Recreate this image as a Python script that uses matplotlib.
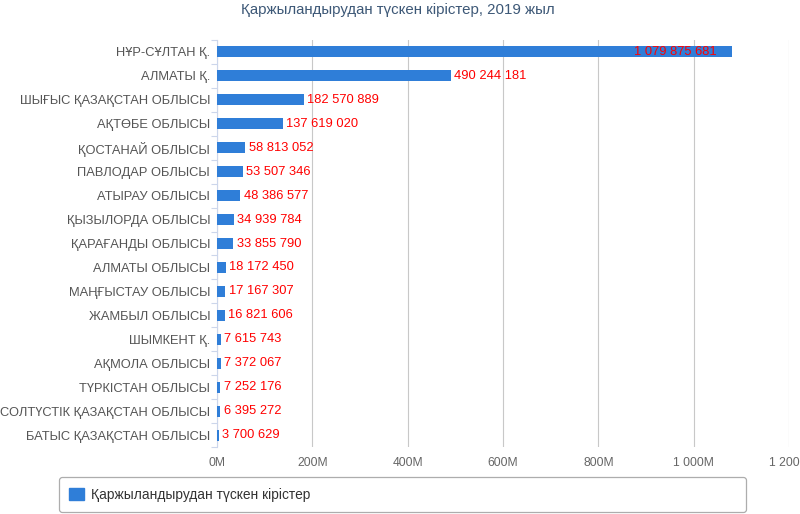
import matplotlib
matplotlib.use("Agg")
import matplotlib.pyplot as plt
from matplotlib.ticker import FixedLocator
from matplotlib.patches import Patch

# ---- data ----
title = "Қаржыландырудан түскен кірістер, 2019 жыл"
series_name = "Қаржыландырудан түскен кірістер"
categories = [
    "НҰР-СҰЛТАН Қ.", "АЛМАТЫ Қ.", "ШЫҒЫС ҚАЗАҚСТАН ОБЛЫСЫ", "АҚТӨБЕ ОБЛЫСЫ",
    "ҚОСТАНАЙ ОБЛЫСЫ", "ПАВЛОДАР ОБЛЫСЫ", "АТЫРАУ ОБЛЫСЫ", "ҚЫЗЫЛОРДА ОБЛЫСЫ",
    "ҚАРАҒАНДЫ ОБЛЫСЫ", "АЛМАТЫ ОБЛЫСЫ", "МАҢҒЫСТАУ ОБЛЫСЫ", "ЖАМБЫЛ ОБЛЫСЫ",
    "ШЫМКЕНТ Қ.", "АҚМОЛА ОБЛЫСЫ", "ТҮРКІСТАН ОБЛЫСЫ",
    "СОЛТҮСТІК ҚАЗАҚСТАН ОБЛЫСЫ", "БАТЫС ҚАЗАҚСТАН ОБЛЫСЫ",
]
values = [
    1079875681, 490244181, 182570889, 137619020, 58813052, 53507346,
    48386577, 34939784, 33855790, 18172450, 17167307, 16821606,
    7615743, 7372067, 7252176, 6395272, 3700629,
]
x_ticks = [0, 200e6, 400e6, 600e6, 800e6, 1000e6, 1200e6]
x_tick_labels = ["0M", "200M", "400M", "600M", "800M", "1 000M", "1 200M"]

plt.rcParams['font.family'] = ['Liberation Sans', 'DejaVu Sans']

W, H = 800, 514
fig = plt.figure(figsize=(W / 100, H / 100), dpi=100)
ax = fig.add_axes([217 / W, 1 - 447 / H, (789 - 217) / W, (447 - 40) / H])

bar_color = "#2f7ed8"
ypos = list(range(len(categories)))
ax.barh(ypos, values, height=0.46, color=bar_color, zorder=3)

ax.set_xlim(0, 1200e6)
ax.set_ylim(len(categories) - 0.5, -0.5)

def fmt(v):
    return f"{v:,}".replace(",", " ")

xmax = 1200e6
for y, v in zip(ypos, values):
    label = fmt(v)
    if v > 0.85 * xmax:
        ax.annotate(label, (v, y), xytext=(-11, 0), textcoords="offset points",
                    ha="right", va="center", color="#ff0000", fontsize=9.3, zorder=4)
    else:
        ax.annotate(label, (v, y), xytext=(2.5, 0), textcoords="offset points",
                    ha="left", va="center", color="#ff0000", fontsize=9.3, zorder=4)

# axes styling
ax.xaxis.set_major_locator(FixedLocator(x_ticks))
ax.set_xticklabels(x_tick_labels)
ax.tick_params(axis="x", length=0, pad=7.5, labelsize=8.7, labelcolor="#666666")
ax.grid(axis="x", color="#c8c8c8", linewidth=0.8, zorder=0)

ax.set_yticks(ypos)
ax.set_yticklabels(categories)
ax.tick_params(axis="y", which="major", length=0, pad=5, labelsize=9.3, labelcolor="#555555")
ax.yaxis.set_minor_locator(FixedLocator([i - 0.5 for i in range(len(categories) + 1)]))
ax.tick_params(axis="y", which="minor", length=4, width=0.8, color="#ccd6eb", direction="out")

for s in ["top", "right", "bottom"]:
    ax.spines[s].set_visible(False)
ax.spines["left"].set_color("#ccd6eb")
ax.spines["left"].set_linewidth(0.8)

fig.text(398 / W, 1 - 10 / H, title, ha="center", va="center",
         fontsize=10.8, color="#3d5877")

leg = fig.legend([Patch(facecolor=bar_color, edgecolor=bar_color)], [series_name],
                 loc="lower left", bbox_to_anchor=(59 / W, 2 / H, (746 - 59) / W, 31 / H),
                 mode="expand", frameon=True, fancybox=True, fontsize=9.9,
                 handlelength=1.05, handleheight=0.9, handletextpad=0.5,
                 borderaxespad=0, borderpad=0.75, labelcolor="#333333")
leg.get_frame().set_edgecolor("#999999")
leg.get_frame().set_linewidth(0.9)

fig.savefig("out.png", dpi=100, facecolor="white")
